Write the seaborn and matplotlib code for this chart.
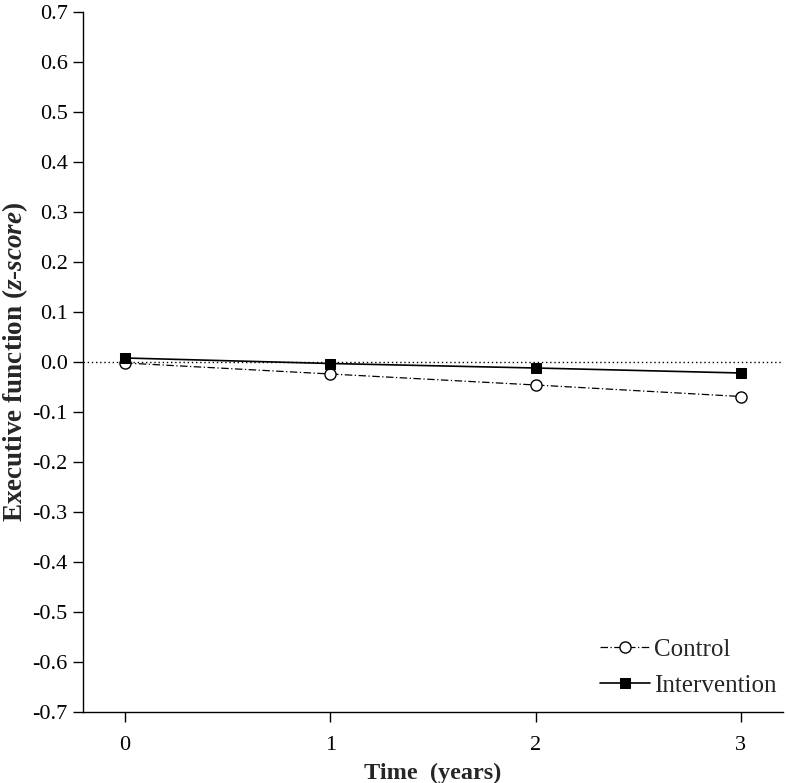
import matplotlib
matplotlib.use("Agg")
import matplotlib.pyplot as plt
import seaborn as sns
import pandas as pd

time_years = [0, 1, 2, 3]
control = [-0.002, -0.024, -0.046, -0.069]
intervention = [0.008, -0.003, -0.012, -0.022]
y_ticks = [-0.7, -0.6, -0.5, -0.4, -0.3, -0.2, -0.1, 0.0, 0.1, 0.2, 0.3, 0.4, 0.5, 0.6, 0.7]

sns.set_style("ticks")
plt.rcParams['font.family'] = ['Liberation Serif', 'DejaVu Serif']
plt.rcParams['mathtext.fontset'] = 'custom'
plt.rcParams['mathtext.rm'] = 'Liberation Serif'
plt.rcParams['mathtext.it'] = 'Liberation Serif:italic'
plt.rcParams['mathtext.bf'] = 'Liberation Serif:bold'
plt.rcParams['mathtext.bfit'] = 'Liberation Serif:bold:italic'

df = pd.DataFrame({
    "Time": time_years * 2,
    "Score": control + intervention,
    "Group": ["Control"] * 4 + ["Intervention"] * 4,
})

fig = plt.figure(figsize=(7.88, 7.83), dpi=100)
ax = fig.add_axes([83/788, 1 - 712/783, (783-83)/788, (712-12)/783])

ax.axhline(0, color="black", lw=1, ls=(0, (1, 2)), zorder=1)

sns.lineplot(data=df[df.Group == "Control"], x="Time", y="Score", ax=ax,
             color="black", lw=0.9, linestyle=(0, (6, 2, 1, 2)),
             marker="o", markersize=8, markerfacecolor="white",
             markeredgecolor="black", markeredgewidth=1.0, label="Control",
             errorbar=None, zorder=3)
sns.lineplot(data=df[df.Group == "Intervention"], x="Time", y="Score", ax=ax,
             color="black", lw=1.2, linestyle="-",
             marker="s", markersize=7, markerfacecolor="black",
             markeredgecolor="black", label="Intervention",
             errorbar=None, zorder=3)

ax.set_xlim(-0.205, 3.205)
ax.set_ylim(-0.7, 0.7)
ax.set_yticks(y_ticks)
ax.set_yticklabels([f"{v:.1f}" for v in y_ticks])
ax.set_xticks(time_years)
ax.set_xticklabels([str(t) for t in time_years])
ax.tick_params(axis="both", direction="out", length=7, width=1, color="black",
               labelsize=16, labelcolor="black")
ax.tick_params(axis="x", pad=10)
ax.tick_params(axis="y", pad=4)
for side in ["top", "right"]:
    ax.spines[side].set_visible(False)
for side in ["left", "bottom"]:
    ax.spines[side].set_color("black")
    ax.spines[side].set_linewidth(1)

ax.set_xlabel("Time  (years)", fontsize=17.5, fontweight="bold", labelpad=6)
ax.set_ylabel(r"Executive function ($\mathbfit{z}$-$\mathbfit{score}$)", fontsize=19.5,
              fontweight="bold", va="center")
ax.yaxis.set_label_coords((15 - 83) / 700, 0.5)

leg = ax.legend(loc="lower right", frameon=False, fontsize=18, handlelength=2.0,
                handletextpad=0.15, borderaxespad=0.2, labelspacing=0.55,
                bbox_to_anchor=(1.012, 0.0))

fig.savefig("out.png", dpi=100)
